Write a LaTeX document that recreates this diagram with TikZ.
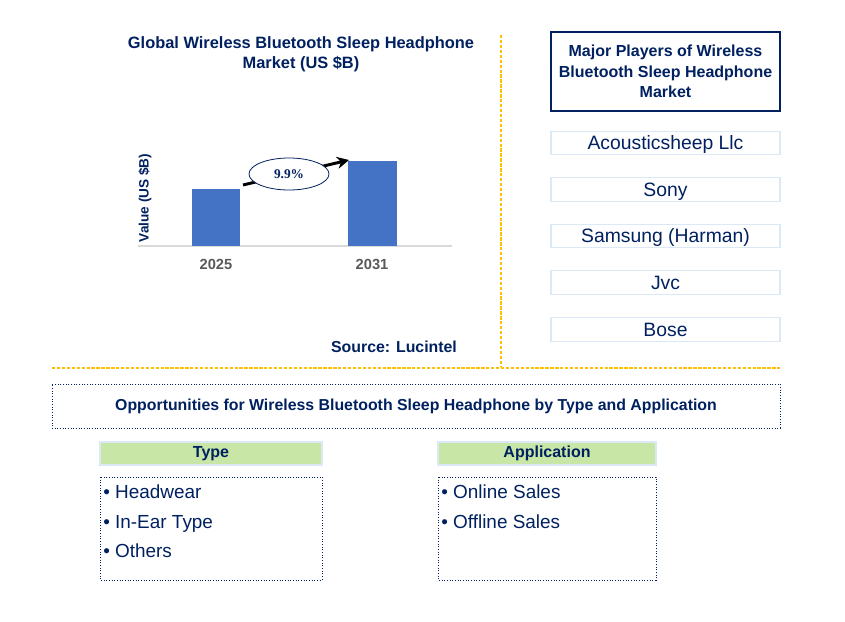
\documentclass[tikz,border=0pt]{standalone}
\usepackage{fontspec}
\setmainfont{Liberation Sans}
\newfontfamily\serifbold{Liberation Serif}
\usetikzlibrary{arrows.meta,shapes.geometric}
\definecolor{navy}{RGB}{0,32,96}
\definecolor{barblue}{RGB}{68,114,196}
\definecolor{lightblue}{RGB}{218,233,245}
\definecolor{hdrgreen}{RGB}{200,230,165}
\definecolor{gold}{RGB}{255,192,0}
\definecolor{axisgray}{RGB}{217,217,217}
\definecolor{labgray}{RGB}{89,89,89}
\tikzset{
  x=0.75pt, y=-0.75pt,
  txt/.style={text=navy, font=\bfseries\fontsize{12}{15.5}\selectfont, align=center, inner sep=0pt},
  player/.style={draw=lightblue, line width=0.8pt, minimum width=171.75pt, minimum height=17.5pt, text=navy, font=\fontsize{14.5}{16}\selectfont, inner sep=0pt, text height=12pt, text depth=1.6pt},
  hdr/.style={draw=lightblue, fill=hdrgreen, line width=0.8pt, text=navy, font=\bfseries\fontsize{12}{14}\selectfont, inner sep=0pt},
  listbox/.style={draw=navy, dash pattern=on 0.8pt off 1.2pt, line width=0.7pt},
  item/.style={text=navy, font=\fontsize{14.2}{16}\selectfont, anchor=base west, inner sep=0pt},
  bar/.style={fill=barblue, draw=none},
  divider/.style={draw=gold, dash pattern=on 2.5pt off 1.2pt, line width=0.8pt}
}
\begin{document}
\begin{tikzpicture}
\useasboundingbox (0,0) rectangle (845,621);
% title
\node[txt, font=\bfseries\fontsize{12.3}{15}\selectfont] (title) at (301,54) {Global Wireless Bluetooth Sleep Headphone\\Market (US \$B)};
% chart
\draw[axisgray, line width=0.8pt] (138,246) coordinate (ax0) -- (452,246) coordinate (ax1);
\fill[bar] (192,189) rectangle (240,246);
\node[inner sep=0pt] (b1) at (216,189) {};
\fill[bar] (348,161) rectangle (397,246);
\node[inner sep=0pt] (b2) at (372,161) {};
\node[text=labgray, font=\bfseries\fontsize{11}{12}\selectfont] (y1) at (216,264) {2025};
\node[text=labgray, font=\bfseries\fontsize{11}{12}\selectfont] (y2) at (372,264) {2031};
\node[txt, rotate=90, font=\bfseries\fontsize{10.2}{11}\selectfont] (ylab) at (145,198) {Value (US \$B)};
\coordinate (a0) at (243,185);
\coordinate (a1) at (349,160);
\draw[line width=2.2pt, -{Stealth[length=9pt,width=9pt]}] (a0) -- (a1);
\node[ellipse, draw=navy, fill=white, line width=0.6pt, minimum width=60pt, minimum height=24pt, inner sep=0pt, text=navy, font=\serifbold\bfseries\fontsize{10}{12}\selectfont] (cagr) at (289,174) {9.9\%};
\node[txt, font=\bfseries\fontsize{11.9}{13}\selectfont] (src) at (394,347) {Source: Lucintel};
% dividers
\coordinate (v0) at (501,35);
\coordinate (v1) at (501,366);
\draw[divider] (v0) -- (v1);
\coordinate (h0) at (52,368);
\coordinate (h1) at (780,368);
\draw[divider] (h0) -- (h1);
% major players
\node[draw=navy, line width=0.8pt, minimum width=171.75pt, minimum height=59.25pt, txt] (mp) at (665.5,71.5) {Major Players of Wireless\\Bluetooth Sleep Headphone\\Market};
\node[player] (p1) at (665.5,143) {Acousticsheep Llc};
\node[player] (p2) at (665.5,189.5) {Sony};
\node[player] (p3) at (665.5,236) {Samsung (Harman)};
\node[player] (p4) at (665.5,282.5) {Jvc};
\node[player] (p5) at (665.5,329.5) {Bose};
% opportunities
\node[draw=navy, dash pattern=on 0.8pt off 1.2pt, line width=0.7pt, minimum width=546pt, minimum height=33pt, txt, font=\bfseries\fontsize{11.9}{13}\selectfont] (opp) at (416,406) {Opportunities for Wireless Bluetooth Sleep Headphone by Type and Application};
% type
\node[hdr, minimum width=166.5pt, minimum height=17.25pt] (th) at (211,453.5) {Type};
\draw[listbox] (100,477) rectangle (322,580);
\node[item] (t1) at (103,498) {• Headwear};
\node[item] (t2) at (103,528) {• In-Ear Type};
\node[item] (t3) at (103,557) {• Others};
% application
\node[hdr, minimum width=163.5pt, minimum height=17.25pt] (ah) at (547,453.5) {Application};
\draw[listbox] (438,477) rectangle (656,580);
\node[item] (ap1) at (441,498) {• Online Sales};
\node[item] (ap2) at (441,528) {• Offline Sales};
\end{tikzpicture}
\end{document}
